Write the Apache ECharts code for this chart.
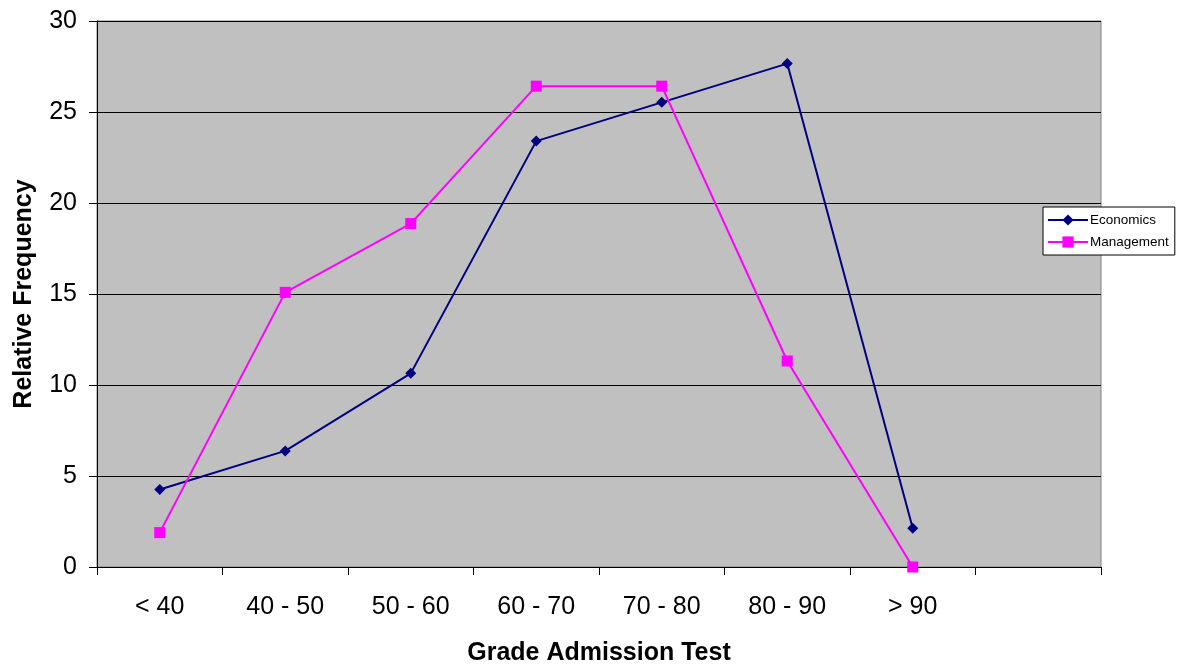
<!DOCTYPE html>
<html>
<head>
<meta charset="utf-8">
<script src="https://cdn.jsdelivr.net/npm/echarts@6/dist/echarts.min.js"></script>
<style>
html,body{margin:0;padding:0;background:#fff;}
#chart{width:1179px;height:664px;}
</style>
</head>
<body>
<div id="chart"></div>
<script>
const categories = ['< 40', '40 - 50', '50 - 60', '60 - 70', '70 - 80', '80 - 90', '> 90', ''];
const economics = [4.26, 6.38, 10.64, 23.40, 25.53, 27.66, 2.13];
const management = [1.89, 15.09, 18.87, 26.42, 26.42, 11.32, 0];
const yTicks = { min: 0, max: 30, interval: 5 };

const font = '"Liberation Sans", Arial, Helvetica, sans-serif';
const chart = echarts.init(document.getElementById('chart'));
chart.setOption({
  animation: false,
  backgroundColor: '#ffffff',
  textStyle: { fontFamily: font },
  grid: {
    left: 97, right: 78, top: 21, bottom: 97,
    outerBoundsMode: 'none',
    containLabel: false,
    show: true, backgroundColor: '#C0C0C0', borderColor: '#808080', borderWidth: 1
  },
  legend: {
    orient: 'vertical',
    left: 1043, top: 207,
    backgroundColor: '#ffffff',
    borderColor: '#000000', borderWidth: 1, borderRadius: 0,
    padding: [6, 6, 6, 4],
    itemWidth: 40, itemHeight: 14, itemGap: 8,
    textStyle: { fontFamily: font, fontSize: 13.5, color: '#000', padding: [0, 0, 0, -3] },
    data: ['Economics', 'Management']
  },
  xAxis: {
    type: 'category',
    data: categories,
    boundaryGap: true,
    name: 'Grade Admission Test',
    nameLocation: 'middle',
    nameGap: 74,
    nameTextStyle: { fontFamily: font, fontSize: 25, fontWeight: 'bold', color: '#000' },
    axisLine: { show: true, lineStyle: { color: '#000', width: 1 } },
    axisTick: { show: true, interval: 0, length: 8, lineStyle: { color: '#000' } },
    axisLabel: { interval: 0, fontFamily: font, fontSize: 25, color: '#000', margin: 28 },
    splitLine: { show: false }
  },
  yAxis: {
    type: 'value',
    min: yTicks.min, max: yTicks.max, interval: yTicks.interval,
    name: 'Relative Frequency',
    nameLocation: 'middle',
    nameGap: 60,
    nameRotate: 90,
    nameTextStyle: { fontFamily: font, fontSize: 25, fontWeight: 'bold', color: '#000' },
    axisLine: { show: true, lineStyle: { color: '#000', width: 1 } },
    axisTick: { show: true, length: 8, lineStyle: { color: '#000' } },
    axisLabel: { fontFamily: font, fontSize: 25, color: '#000', margin: 20, padding: [3, 0, 0, 0] },
    splitLine: { show: true, lineStyle: { color: '#000', width: 1 } }
  },
  series: [
    {
      name: 'Economics', type: 'line', data: economics,
      symbol: 'diamond', symbolSize: 11, showAllSymbol: true,
      lineStyle: { color: '#000080', width: 2 },
      itemStyle: { color: '#000080' }
    },
    {
      name: 'Management', type: 'line', data: management,
      symbol: 'rect', symbolSize: 11, showAllSymbol: true,
      lineStyle: { color: '#FF00FF', width: 2 },
      itemStyle: { color: '#FF00FF' }
    }
  ]
});
</script>
</body>
</html>
